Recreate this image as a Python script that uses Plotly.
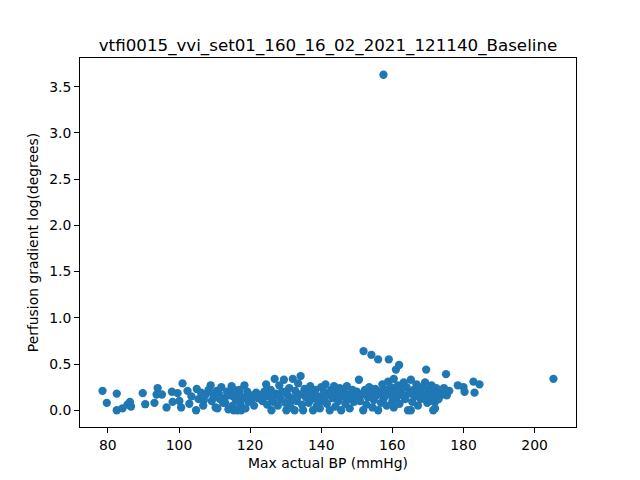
import plotly.graph_objects as go

# Max actual BP (mmHg) vs perfusion gradient
bp_low = [78.5, 79.7, 82.5, 82.5, 84.1, 85.5, 86.2, 86.5, 89.8, 90.5, 93.1, 94.0,
          93.7, 95.2, 96.5, 98.0, 98.2, 99.6, 100.1, 100.6]
grad_low = [0.21, 0.08, 0.18, 0.0, 0.02, 0.06, 0.09, 0.04, 0.185, 0.065, 0.08, 0.24,
            0.17, 0.17, 0.03, 0.2, 0.09, 0.185, 0.1, 0.03]

bp_mid1 = [101.0, 102.4, 102.9, 103.5, 104.8, 105.0, 105.5, 106.2, 106.8, 107.5,
           108.3, 108.9, 109.2, 109.8, 110.3, 110.6, 110.8, 111.2, 111.9, 112.4,
           112.8, 113.5, 113.9, 114.4, 114.8, 115.1, 115.4, 115.6, 116.0, 116.4,
           116.9, 117.3, 117.5, 117.8, 118.4, 118.7, 119.2, 119.6, 120.0, 120.5,
           121.1, 121.7, 122.3, 122.8, 123.5, 124.0, 124.5, 124.8,
           107.0, 109.5, 111.5, 113.0, 115.3, 117.0, 119.0, 121.5, 123.0, 124.2]
grad_mid1 = [0.29, 0.21, 0.07, 0.15, 0.0, 0.23, 0.12, 0.19, 0.05, 0.17,
             0.22, 0.27, 0.10, 0.14, 0.03, 0.21, 0.02, 0.18, 0.25, 0.08,
             0.13, 0.2, 0.01, 0.16, 0.26, 0.05, 0.0, 0.22, 0.11, 0.0,
             0.18, 0.07, 0.0, 0.14, 0.27, 0.02, 0.2, 0.09, 0.16, 0.12,
             0.05, 0.19, 0.13, 0.16, 0.1, 0.2, 0.28, 0.06,
             0.11, 0.18, 0.12, 0.08, 0.15, 0.22, 0.13, 0.17, 0.12, 0.15]

bp_mid2 = [125.3, 125.8, 126.0, 126.5, 126.9, 127.3, 127.8, 128.2, 128.6, 129.0,
           129.5, 129.9, 130.2, 130.6, 131.0, 131.4, 131.8, 132.0, 132.5, 132.7,
           133.1, 133.5, 133.9, 134.2, 134.6, 134.9, 135.3, 135.7, 136.1, 136.5,
           136.9, 137.3, 137.7, 138.0, 138.4, 138.8, 139.2, 139.6, 140.0, 140.4,
           140.8, 141.2, 141.6, 142.0, 142.4, 142.8, 143.2, 143.6, 144.0, 144.4,
           144.8, 145.2, 145.6, 146.0, 146.4, 146.8, 147.2, 147.6, 148.0, 148.4,
           148.8, 149.2, 149.6, 150.0,
           126.2, 128.0, 130.0, 131.6, 133.3, 135.0, 137.0, 139.0, 141.0, 143.0,
           145.0, 147.0, 149.0]
grad_mid2 = [0.15, 0.22, 0.0, 0.09, 0.34, 0.18, 0.05, 0.27, 0.12, 0.2,
             0.33, 0.08, 0.0, 0.16, 0.24, 0.03, 0.13, 0.34, 0.0, 0.21,
             0.1, 0.29, 0.17, 0.37, 0.06, 0.0, 0.23, 0.14, 0.19, 0.08,
             0.26, 0.12, 0.0, 0.18, 0.22, 0.05, 0.15, 0.02, 0.25, 0.1,
             0.2, 0.28, 0.07, 0.16, 0.0, 0.22, 0.13, 0.26, 0.04, 0.18,
             0.1, 0.24, 0.0, 0.15, 0.2, 0.07, 0.26, 0.12, 0.02, 0.18,
             0.22, 0.09, 0.15, 0.2,
             0.12, 0.16, 0.2, 0.1, 0.14, 0.18, 0.21, 0.11, 0.14, 0.19,
             0.15, 0.17, 0.12]

bp_high = [150.6, 150.9, 151.3, 151.8, 151.9, 152.3, 152.7, 153.1, 153.5, 153.9,
           154.1, 154.4, 154.8, 155.2, 155.6, 156.0, 156.0, 156.4, 156.8, 157.2,
           157.5, 157.6, 158.0, 158.4, 158.8, 159.0, 159.2, 159.6, 160.0, 160.4,
           160.4, 160.8, 161.0, 161.2, 161.6, 161.9, 162.0, 162.4, 162.8, 163.2,
           163.6, 164.0, 164.4, 164.8, 165.2, 165.2, 165.6, 166.0, 166.4, 166.8,
           167.2, 167.6, 168.0, 168.4, 168.8, 169.2, 169.5, 169.8, 170.2, 170.6,
           171.0, 171.4, 171.5, 171.8, 172.0, 172.0, 172.3, 172.8, 173.3, 174.0,
           174.5, 175.1, 175.3, 176.0,
           152.0, 154.0, 155.8, 157.9, 159.8, 161.4, 163.0, 165.0, 167.0, 169.0,
           171.2, 173.0]
grad_high = [0.33, 0.1, 0.17, 0.0, 0.64, 0.22, 0.06, 0.14, 0.25, 0.19,
             0.6, 0.03, 0.11, 0.23, 0.16, 0.0, 0.55, 0.2, 0.08, 0.28,
             3.63, 0.13, 0.22, 0.05, 0.31, 0.55, 0.17, 0.25, 0.1, 0.03,
             0.34, 0.2, 0.44, 0.14, 0.27, 0.49, 0.07, 0.22, 0.17, 0.3,
             0.12, 0.25, 0.0, 0.19, 0.33, 0.0, 0.09, 0.22, 0.15, 0.28,
             0.05, 0.2, 0.12, 0.25, 0.17, 0.3, 0.44, 0.08, 0.22, 0.15,
             0.27, 0.1, 0.0, 0.19, 0.02, 0.09, 0.24, 0.14, 0.2, 0.17,
             0.24, 0.39, 0.16, 0.21,
             0.18, 0.15, 0.2, 0.17, 0.19, 0.21, 0.16, 0.18, 0.22, 0.14,
             0.2, 0.12]

bp_top = [178.4, 180.0, 180.3, 182.8, 183.1, 184.5, 205.3]
grad_top = [0.27, 0.25, 0.2, 0.31, 0.19, 0.28, 0.34]

bp = bp_low + bp_mid1 + bp_mid2 + bp_high + bp_top
grad = grad_low + grad_mid1 + grad_mid2 + grad_high + grad_top

# matplotlib-style 5% padding
def padded(vals):
    lo, hi = min(vals), max(vals)
    pad = 0.05 * (hi - lo)
    return [lo - pad, hi + pad]

fig = go.Figure(go.Scatter(
    x=bp, y=grad, mode="markers",
    marker=dict(color="#1f77b4", size=8.3, line=dict(width=0)),
))

axis_style = dict(
    showline=True, linecolor="black", linewidth=1, mirror=True,
    ticks="outside", ticklen=5, tickcolor="black", tickwidth=1,
    showgrid=False, zeroline=False, automargin=False,
    tickfont=dict(family="DejaVu Sans", size=13.9, color="black"),
)

# page body adds an 8px offset, so the figure is a bit smaller
fig.update_layout(
    width=632, height=472,
    paper_bgcolor="white", plot_bgcolor="white",
    margin=dict(l=72, r=64, t=50, b=53),
    showlegend=False,
    font=dict(family="DejaVu Sans", color="black"),
    title=dict(text="vtfi0015_vvi_set01_160_16_02_2021_121140_Baseline",
               x=0.5, xref="paper", xanchor="center",
               y=1, yref="paper", yanchor="bottom", pad=dict(b=7),
               font=dict(family="DejaVu Sans", size=16.7, color="black")),
    xaxis=dict(axis_style, range=padded(bp), tickvals=[80, 100, 120, 140, 160, 180, 200],
               title=dict(text="Max actual BP (mmHg)", standoff=6,
                          font=dict(family="DejaVu Sans", size=13.9))),
    yaxis=dict(axis_style, range=padded(grad),
               tickvals=[0, 0.5, 1, 1.5, 2, 2.5, 3, 3.5], tickformat=".1f",
               title=dict(text="Perfusion gradient log(degrees)", standoff=7,
                          font=dict(family="DejaVu Sans", size=13.9))),
)

fig.write_html("out.html")
